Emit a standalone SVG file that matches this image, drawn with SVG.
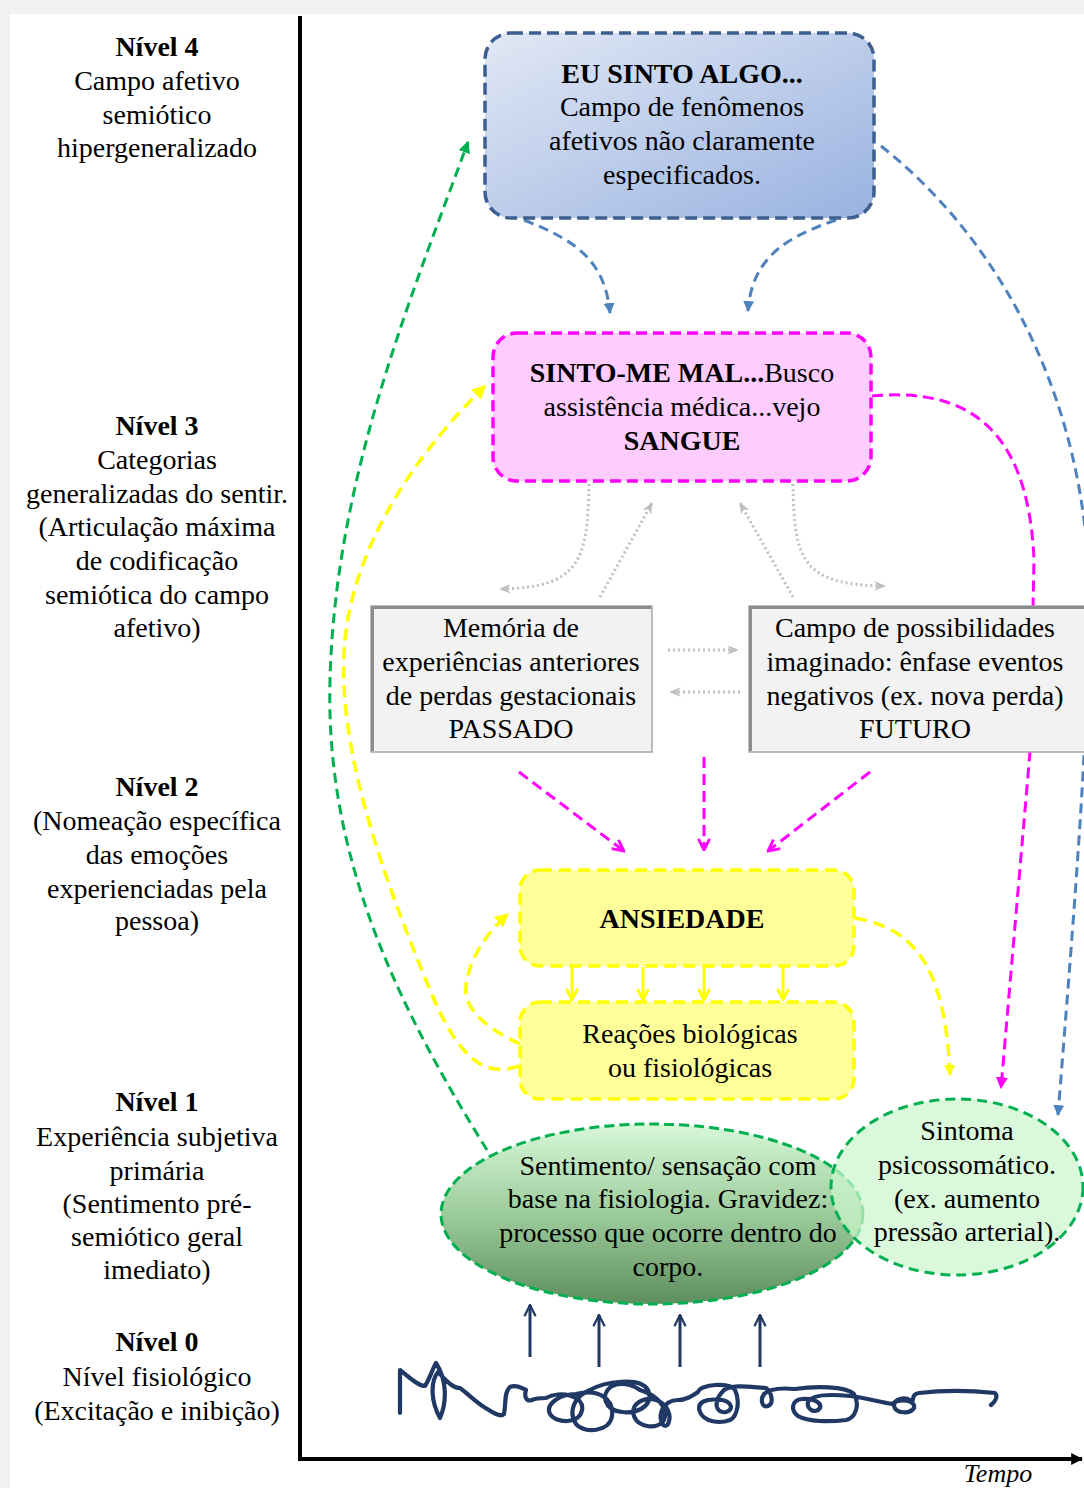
<svg xmlns="http://www.w3.org/2000/svg" width="1084" height="1488" viewBox="0 0 1084 1488" font-family="'Liberation Serif', 'DejaVu Serif', serif">
  <style>
    text { font-family: "Liberation Serif", "DejaVu Serif", serif; font-size: 28px; fill: #000; text-anchor: middle; }
    .b { font-weight: bold; }
    .blue { fill: none; stroke: #4f81bd; stroke-width: 3; stroke-dasharray: 10 6; }
    .mag { fill: none; stroke: #ff00ff; stroke-width: 3; stroke-dasharray: 11 6; }
    .yel { fill: none; stroke: #ffff00; stroke-width: 3.5; stroke-dasharray: 12 7; }
    .grn { fill: none; stroke: #00b050; stroke-width: 3; stroke-dasharray: 10 6; }
    .dot { fill: none; stroke: #bfbfbf; stroke-width: 3; stroke-dasharray: 2 3; }
    .ysolid { fill: none; stroke: #ffff00; stroke-width: 3; }
    .navy { fill: none; stroke: #1f3864; stroke-width: 3; }
  </style>
  <defs>
    <linearGradient id="gBlue" x1="0" y1="0" x2="1" y2="1">
      <stop offset="0" stop-color="#e2e8f5"/>
      <stop offset="1" stop-color="#98b2e0"/>
    </linearGradient>
    <linearGradient id="gGreen" x1="0" y1="0" x2="0" y2="1">
      <stop offset="0" stop-color="#d8f8d8"/>
      <stop offset="0.5" stop-color="#9ccc9c"/>
      <stop offset="1" stop-color="#5e8e5e"/>
    </linearGradient>
    <marker id="aBlue" viewBox="0 0 10 10" refX="9" refY="5" markerWidth="11" markerHeight="11" markerUnits="userSpaceOnUse" orient="auto">
      <path d="M0 0 L10 5 L0 10 z" fill="#4f81bd"/>
    </marker>
    <marker id="aMagF" viewBox="0 0 10 10" refX="9" refY="5" markerWidth="12" markerHeight="12" markerUnits="userSpaceOnUse" orient="auto">
      <path d="M0 0 L10 5 L0 10 z" fill="#ff00ff"/>
    </marker>
    <marker id="aMagV" viewBox="0 0 10 10" refX="9" refY="5" markerWidth="14" markerHeight="14" markerUnits="userSpaceOnUse" orient="auto">
      <path d="M1 1 L9 5 L1 9" fill="none" stroke="#ff00ff" stroke-width="2"/>
    </marker>
    <marker id="aYelF" viewBox="0 0 10 10" refX="9" refY="5" markerWidth="14" markerHeight="14" markerUnits="userSpaceOnUse" orient="auto">
      <path d="M0 0 L10 5 L0 10 z" fill="#ffff00"/>
    </marker>
    <marker id="aYelS" viewBox="0 0 10 10" refX="9" refY="5" markerWidth="11" markerHeight="11" markerUnits="userSpaceOnUse" orient="auto">
      <path d="M0 0 L10 5 L0 10 z" fill="#ffff00"/>
    </marker>
    <marker id="aYelV" viewBox="0 0 10 10" refX="9" refY="5" markerWidth="14" markerHeight="14" markerUnits="userSpaceOnUse" orient="auto">
      <path d="M1 1 L9 5 L1 9" fill="none" stroke="#ffff00" stroke-width="2"/>
    </marker>
    <marker id="aGrn" viewBox="0 0 10 10" refX="9" refY="5" markerWidth="12" markerHeight="12" markerUnits="userSpaceOnUse" orient="auto">
      <path d="M0 0 L10 5 L0 10 z" fill="#00b050"/>
    </marker>
    <marker id="aGray" viewBox="0 0 10 10" refX="9" refY="5" markerWidth="12" markerHeight="12" markerUnits="userSpaceOnUse" orient="auto">
      <path d="M0 1 L10 5 L0 9 L3 5 z" fill="#bfbfbf"/>
    </marker>
    <marker id="aNavy" viewBox="0 0 10 10" refX="9" refY="5" markerWidth="14" markerHeight="14" markerUnits="userSpaceOnUse" orient="auto">
      <path d="M1 1 L9 5 L1 9" fill="none" stroke="#1f3864" stroke-width="1.6"/>
    </marker>
    <marker id="aAxis" viewBox="0 0 10 10" refX="9" refY="5" markerWidth="12" markerHeight="12" markerUnits="userSpaceOnUse" orient="auto">
      <path d="M0 0 L10 5 L0 10 z" fill="#000"/>
    </marker>
  </defs>

  <!-- page -->
  <rect x="0" y="0" width="1084" height="1488" fill="#f2f2f2"/>
  <rect x="10" y="14" width="1074" height="1474" fill="#ffffff"/>

  <!-- level labels -->
  <g id="level4">
    <text x="157" y="56" class="b">Nível 4</text>
    <text x="157" y="90">Campo afetivo</text>
    <text x="157" y="124">semiótico</text>
    <text x="157" y="157">hipergeneralizado</text>
  </g>
  <g id="level3">
    <text x="157" y="435" class="b">Nível 3</text>
    <text x="157" y="469">Categorias</text>
    <text x="157" y="503">generalizadas do sentir.</text>
    <text x="157" y="536">(Articulação máxima</text>
    <text x="157" y="570">de codificação</text>
    <text x="157" y="604">semiótica do campo</text>
    <text x="157" y="637">afetivo)</text>
  </g>
  <g id="level2">
    <text x="157" y="796" class="b">Nível 2</text>
    <text x="157" y="830">(Nomeação específica</text>
    <text x="157" y="864">das emoções</text>
    <text x="157" y="898">experienciadas pela</text>
    <text x="157" y="930">pessoa)</text>
  </g>
  <g id="level1">
    <text x="157" y="1111" class="b">Nível 1</text>
    <text x="157" y="1146">Experiência subjetiva</text>
    <text x="157" y="1180">primária</text>
    <text x="157" y="1213">(Sentimento pré-</text>
    <text x="157" y="1246">semiótico geral</text>
    <text x="157" y="1279">imediato)</text>
  </g>
  <g id="level0">
    <text x="157" y="1351" class="b">Nível 0</text>
    <text x="157" y="1386">Nível fisiológico</text>
    <text x="157" y="1420">(Excitação e inibição)</text>
  </g>

  <!-- axes -->
  <g id="axes">
    <line x1="300" y1="16" x2="300" y2="1461" stroke="#000" stroke-width="4"/>
    <path d="M298 1459 L1082 1459" stroke="#000" stroke-width="4" fill="none" marker-end="url(#aAxis)"/>
    <text x="998" y="1482" style="font-style:italic;font-size:26px">Tempo</text>
  </g>

  <!-- connectors -->
  <g id="connectors">
    <path class="blue" d="M524 220 C575 240 605 260 610 313" marker-end="url(#aBlue)"/>
    <path class="blue" d="M836 220 C790 236 752 255 748 311" marker-end="url(#aBlue)"/>
    <path class="blue" d="M881 146 C985 228 1075 370 1088 560 C1092 700 1075 900 1058 1115" marker-end="url(#aBlue)"/>

    <path class="mag" d="M872 396 C960 388 1028 420 1034 560 L1030 752 L1001 1088" marker-end="url(#aMagF)"/>
    <path class="mag" d="M519 772 L624 851" marker-end="url(#aMagV)"/>
    <path class="mag" d="M704 757 L704 850" marker-end="url(#aMagV)"/>
    <path class="mag" d="M870 772 L768 851" marker-end="url(#aMagV)"/>

    <path class="yel" d="M855 918 C910 928 945 960 950 1075" marker-end="url(#aYelS)"/>
    <path class="yel" d="M520 1044 C490 1030 462 1010 466 985 C470 955 490 930 508 914" marker-end="url(#aYelF)"/>
    <path class="yel" d="M519 1066 C480 1080 455 1050 430 990 C380 870 335 740 345 640 C355 540 420 450 485 386" marker-end="url(#aYelF)"/>

    <path class="grn" d="M487 1150 C400 1010 325 860 330 680 C335 480 410 300 468 142" marker-end="url(#aGrn)"/>

    <path class="dot" d="M589 484 C588 560 580 588 500 589" marker-end="url(#aGray)"/>
    <path class="dot" d="M600 597 L652 503" marker-end="url(#aGray)"/>
    <path class="dot" d="M793 597 L740 503" marker-end="url(#aGray)"/>
    <path class="dot" d="M793 484 C794 560 802 585 885 586" marker-end="url(#aGray)"/>
    <path class="dot" d="M668 650 L738 650" marker-end="url(#aGray)"/>
    <path class="dot" d="M740 692 L670 692" marker-end="url(#aGray)"/>

    <path class="ysolid" d="M572 967 L572 1000" marker-end="url(#aYelV)"/>
    <path class="ysolid" d="M643 967 L643 1000" marker-end="url(#aYelV)"/>
    <path class="ysolid" d="M704 967 L704 1000" marker-end="url(#aYelV)"/>
    <path class="ysolid" d="M783 967 L783 1000" marker-end="url(#aYelV)"/>

    <path class="navy" d="M530 1357 L530 1305" marker-end="url(#aNavy)"/>
    <path class="navy" d="M599 1367 L599 1315" marker-end="url(#aNavy)"/>
    <path class="navy" d="M680 1367 L680 1315" marker-end="url(#aNavy)"/>
    <path class="navy" d="M760 1367 L760 1315" marker-end="url(#aNavy)"/>
  </g>

  <!-- nodes -->
  <g id="eu-sinto-algo">
    <rect x="485" y="33" width="389" height="185" rx="26" fill="url(#gBlue)" stroke="#3d5f8f" stroke-width="3.5" stroke-dasharray="12 6"/>
    <text x="682" y="83" class="b">EU SINTO ALGO...</text>
    <text x="682" y="116">Campo de fenômenos</text>
    <text x="682" y="150">afetivos não claramente</text>
    <text x="682" y="184">especificados.</text>
  </g>

  <g id="sinto-me-mal">
    <rect x="493" y="333" width="378" height="148" rx="24" fill="#ffccff" stroke="#ff00ff" stroke-width="3.5" stroke-dasharray="11 6"/>
    <text x="682" y="382"><tspan class="b">SINTO-ME MAL...</tspan>Busco</text>
    <text x="682" y="416">assistência médica...vejo</text>
    <text x="682" y="450" class="b">SANGUE</text>
  </g>

  <g id="passado">
    <rect x="371" y="606" width="281" height="146" fill="#f2f2f2" stroke="#a6a6a6" stroke-width="1.5"/>
    <path d="M372.5 751 L372.5 607.5 L651 607.5" fill="none" stroke="#8c8c8c" stroke-width="3"/>
    <text x="511" y="637">Memória de</text>
    <text x="511" y="671">experiências anteriores</text>
    <text x="511" y="705">de perdas gestacionais</text>
    <text x="511" y="738">PASSADO</text>
  </g>

  <g id="futuro">
    <rect x="749" y="606" width="345" height="146" fill="#f2f2f2" stroke="#a6a6a6" stroke-width="1.5"/>
    <path d="M750.5 751 L750.5 607.5 L1084 607.5" fill="none" stroke="#8c8c8c" stroke-width="3"/>
    <text x="915" y="637">Campo de possibilidades</text>
    <text x="915" y="671">imaginado: ênfase eventos</text>
    <text x="915" y="705">negativos (ex. nova perda)</text>
    <text x="915" y="738">FUTURO</text>
  </g>

  <g id="ansiedade">
    <rect x="520" y="870" width="334" height="96" rx="20" fill="#ffff99" stroke="#ffff00" stroke-width="3.5" stroke-dasharray="12 7"/>
    <text x="682" y="928" class="b">ANSIEDADE</text>
  </g>

  <g id="reacoes">
    <rect x="520" y="1002" width="334" height="97" rx="20" fill="#ffff99" stroke="#ffff00" stroke-width="3.5" stroke-dasharray="12 7"/>
    <text x="690" y="1043">Reações biológicas</text>
    <text x="690" y="1077">ou fisiológicas</text>
  </g>

  <g id="sentimento">
    <ellipse cx="652" cy="1214" rx="211" ry="90" fill="url(#gGreen)" stroke="#00b050" stroke-width="3" stroke-dasharray="10 5"/>
    <text x="668" y="1175">Sentimento/ sensação com</text>
    <text x="668" y="1208">base na fisiologia. Gravidez:</text>
    <text x="668" y="1242">processo que ocorre dentro do</text>
    <text x="668" y="1276">corpo.</text>
  </g>

  <g id="sintoma">
    <ellipse cx="957" cy="1187" rx="126" ry="88" fill="#ccf5cc" fill-opacity="0.72" stroke="#00b050" stroke-width="3" stroke-dasharray="10 6"/>
    <text x="967" y="1140">Sintoma</text>
    <text x="967" y="1174">psicossomático.</text>
    <text x="967" y="1208">(ex. aumento</text>
    <text x="967" y="1241">pressão arterial).</text>
  </g>

  <!-- physiological activity trace -->
  <g id="trace">
    <path fill="none" stroke="#1f3864" stroke-width="4.2" stroke-linecap="round" stroke-linejoin="round"
      d="M400 1413 L400 1370 C408 1376 418 1386 425 1386 C430 1378 432 1370 436 1363
         C447 1380 447 1402 440 1418 C431 1402 430 1382 438 1372 C446 1380 452 1388 460 1388
         C468 1394 476 1402 484 1407 C492 1412 500 1418 504 1414 C506 1404 504 1392 510 1387
         C516 1384 522 1388 526 1390 C524 1396 526 1402 532 1400 C536 1398 540 1398 546 1398
         C560 1390 585 1396 582 1410 C580 1424 556 1424 550 1414 C545 1404 560 1394 576 1394
         C600 1388 614 1400 612 1416 C610 1432 584 1434 576 1424 C568 1412 574 1396 590 1390
         C604 1382 640 1376 648 1390 C654 1404 640 1414 622 1412 C604 1410 600 1394 612 1386
         C620 1382 632 1384 640 1390 C660 1396 668 1410 664 1420 C658 1430 638 1428 634 1416
         C630 1404 644 1396 656 1400 C668 1404 672 1416 668 1424 C664 1430 658 1420 662 1410
         C666 1402 672 1400 678 1400 C686 1400 692 1396 698 1392
         C700 1384 730 1382 735 1390 C740 1400 738 1416 730 1420 C720 1424 704 1422 700 1412
         C696 1402 706 1398 722 1400 C732 1402 734 1410 726 1412 C716 1414 712 1402 724 1390
         C732 1384 750 1387 766 1388 C772 1392 774 1404 768 1406 C762 1408 760 1400 764 1394
         C770 1388 784 1388 795 1389 C815 1386 845 1386 854 1394 C860 1404 856 1418 846 1420
         C830 1422 808 1422 798 1416 C790 1410 792 1400 802 1399 C812 1398 822 1402 820 1408
         C816 1414 806 1410 808 1402 C812 1394 830 1394 850 1396 C866 1398 880 1402 892 1404
         C900 1398 916 1400 914 1408 C910 1414 896 1414 894 1406 C894 1398 906 1396 912 1402
         C914 1398 912 1394 919 1393 C945 1390 975 1391 995 1393 C998 1396 996 1401 991 1405"/>
  </g>
</svg>
